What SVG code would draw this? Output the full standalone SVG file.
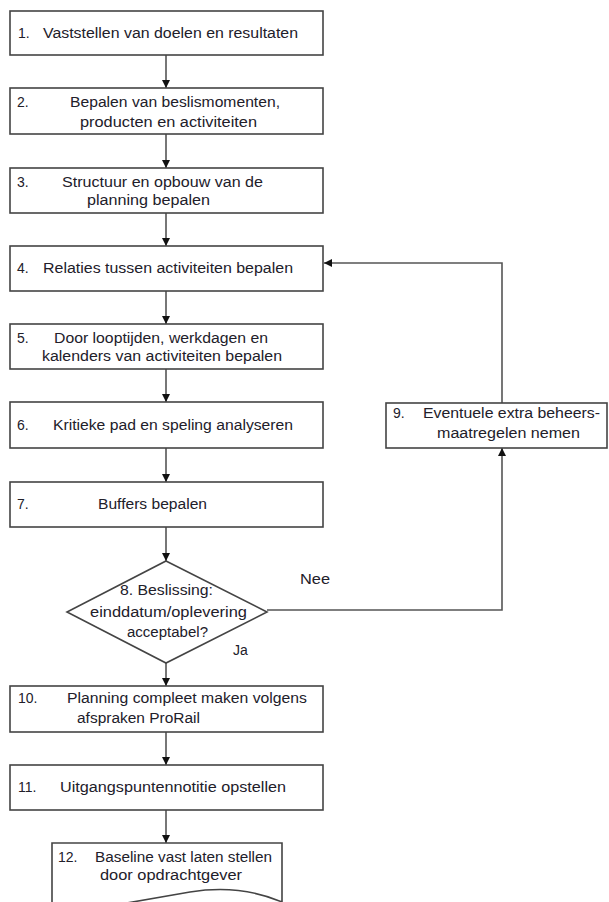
<svg xmlns="http://www.w3.org/2000/svg" width="609" height="902" viewBox="0 0 609 902">
<style>
.box{fill:#fff;stroke:#444;stroke-width:1.6}
.ln{fill:none;stroke:#555;stroke-width:1.6}
text{font-family:"Liberation Sans",Arial,sans-serif;font-size:14px;fill:#22202a}
</style>
<defs>
<marker id="ah" viewBox="0 0 10 10" refX="10" refY="5" markerWidth="5" markerHeight="5" markerUnits="strokeWidth" orient="auto">
<path d="M0,0 L10,5 L0,10 Z" fill="#111"/>
</marker>
</defs>
<rect width="609" height="902" fill="#fff"/>
<g id="connectors">
<line class="ln" x1="166" y1="55" x2="166" y2="88" marker-end="url(#ah)"/>
<line class="ln" x1="166" y1="134" x2="166" y2="168" marker-end="url(#ah)"/>
<line class="ln" x1="166" y1="213" x2="166" y2="246" marker-end="url(#ah)"/>
<line class="ln" x1="166" y1="291" x2="166" y2="324" marker-end="url(#ah)"/>
<line class="ln" x1="166" y1="369" x2="166" y2="402" marker-end="url(#ah)"/>
<line class="ln" x1="166" y1="448" x2="166" y2="482" marker-end="url(#ah)"/>
<line class="ln" x1="166" y1="527" x2="166" y2="561" marker-end="url(#ah)"/>
<line class="ln" x1="166" y1="663" x2="166" y2="686" marker-end="url(#ah)"/>
<line class="ln" x1="166" y1="732" x2="166" y2="765" marker-end="url(#ah)"/>
<line class="ln" x1="166" y1="810" x2="166" y2="843" marker-end="url(#ah)"/>
<polyline class="ln" points="267,610 502,610 502,448" marker-end="url(#ah)"/>
<polyline class="ln" points="502,403 502,263 324,263" marker-end="url(#ah)"/>
</g>
<g id="n1"><rect class="box" x="10" y="11" width="313" height="44"/>
<text x="18" y="38">1.</text><text x="43" y="38" textLength="255" lengthAdjust="spacingAndGlyphs">Vaststellen van doelen en resultaten</text></g>
<g id="n2"><rect class="box" x="10" y="88" width="313" height="46"/>
<text x="17" y="107">2.</text><text x="70" y="107" textLength="210" lengthAdjust="spacingAndGlyphs">Bepalen van beslismomenten,</text>
<text x="80" y="127" textLength="177" lengthAdjust="spacingAndGlyphs">producten en activiteiten</text></g>
<g id="n3"><rect class="box" x="10" y="168" width="313" height="45"/>
<text x="17" y="187">3.</text><text x="62" y="187" textLength="201" lengthAdjust="spacingAndGlyphs">Structuur en opbouw van de</text>
<text x="87" y="205" textLength="123" lengthAdjust="spacingAndGlyphs">planning bepalen</text></g>
<g id="n4"><rect class="box" x="10" y="246" width="313" height="45"/>
<text x="17" y="273">4.</text><text x="43" y="273" textLength="250" lengthAdjust="spacingAndGlyphs">Relaties tussen activiteiten bepalen</text></g>
<g id="n5"><rect class="box" x="10" y="324" width="313" height="45"/>
<text x="17" y="343">5.</text><text x="54" y="343" textLength="214" lengthAdjust="spacingAndGlyphs">Door looptijden, werkdagen en</text>
<text x="42" y="361" textLength="240" lengthAdjust="spacingAndGlyphs">kalenders van activiteiten bepalen</text></g>
<g id="n6"><rect class="box" x="10" y="402" width="313" height="46"/>
<text x="17" y="430">6.</text><text x="53" y="430" textLength="240" lengthAdjust="spacingAndGlyphs">Kritieke pad en speling analyseren</text></g>
<g id="n7"><rect class="box" x="10" y="482" width="313" height="45"/>
<text x="17" y="509">7.</text><text x="98" y="509" textLength="109" lengthAdjust="spacingAndGlyphs">Buffers bepalen</text></g>
<g id="n8"><polygon class="box" points="166,561 267,612 166,663 67,612"/>
<text x="120" y="595" textLength="93" lengthAdjust="spacingAndGlyphs">8.  Beslissing:</text>
<text x="90" y="617" textLength="157" lengthAdjust="spacingAndGlyphs">einddatum/oplevering</text>
<text x="127" y="637" textLength="81" lengthAdjust="spacingAndGlyphs">acceptabel?</text></g>
<text x="300" y="584" textLength="30" lengthAdjust="spacingAndGlyphs">Nee</text>
<text x="233" y="655">Ja</text>
<g id="n9"><rect class="box" x="386" y="403" width="221" height="45"/>
<text x="393" y="418">9.</text><text x="423" y="418" textLength="177" lengthAdjust="spacingAndGlyphs">Eventuele extra beheers-</text>
<text x="437" y="438" textLength="143" lengthAdjust="spacingAndGlyphs">maatregelen nemen</text></g>
<g id="n10"><rect class="box" x="10" y="686" width="313" height="46"/>
<text x="18" y="703">10.</text><text x="67" y="703" textLength="240" lengthAdjust="spacingAndGlyphs">Planning compleet maken volgens</text>
<text x="77" y="723" textLength="123" lengthAdjust="spacingAndGlyphs">afspraken ProRail</text></g>
<g id="n11"><rect class="box" x="10" y="765" width="313" height="45"/>
<text x="18" y="792">11.</text><text x="60" y="792" textLength="226" lengthAdjust="spacingAndGlyphs">Uitgangspuntennotitie opstellen</text></g>
<g id="n12"><path class="box" d="M52,843 H282 V902 Q240,884 190,892 Q120,904 52,916 Z"/>
<text x="58" y="862">12.</text><text x="95" y="862" textLength="177" lengthAdjust="spacingAndGlyphs">Baseline vast laten stellen</text>
<text x="100" y="880" textLength="142" lengthAdjust="spacingAndGlyphs">door  opdrachtgever</text></g>
</svg>
